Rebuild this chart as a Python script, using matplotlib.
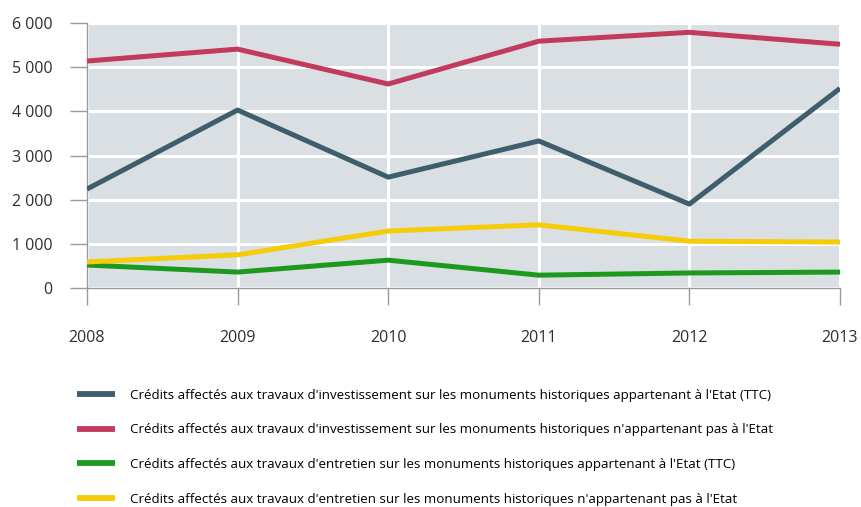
import matplotlib
matplotlib.use("Agg")
import matplotlib.pyplot as plt

plt.rcParams["font.family"] = ["Open Sans", "DejaVu Sans"]

years = [2008, 2009, 2010, 2011, 2012, 2013]
invest_etat = [2240, 4030, 2510, 3330, 1900, 4520]
invest_hors_etat = [5140, 5410, 4620, 5590, 5790, 5520]
entretien_etat = [520, 360, 630, 290, 340, 360]
entretien_hors_etat = [590, 750, 1290, 1430, 1060, 1040]
y_ticks = [0, 1000, 2000, 3000, 4000, 5000, 6000]
y_tick_labels = ["0", "1 000", "2 000", "3 000", "4 000", "5 000", "6 000"]

labels = [
    "Crédits affectés aux travaux d'investissement sur les monuments historiques appartenant à l'Etat (TTC)",
    "Crédits affectés aux travaux d'investissement sur les monuments historiques n'appartenant pas à l'Etat",
    "Crédits affectés aux travaux d'entretien sur les monuments historiques appartenant à l'Etat (TTC)",
    "Crédits affectés aux travaux d'entretien sur les monuments historiques n'appartenant pas à l'Etat",
]
series = [invest_etat, invest_hors_etat, entretien_etat, entretien_hors_etat]
colors = ["#3e5d6d", "#c23a5c", "#1d9a1d", "#f6cb08"]

fig = plt.figure(figsize=(8.61, 5.07), dpi=100)
ax = fig.add_axes([0.101, 0.432, 0.8746, 0.5225])
ax.set_facecolor("#d9dfe3")

lines = []
for vals, col, lab in zip(series, colors, labels):
    ln, = ax.plot(years, vals, color=col, lw=3.6, solid_capstyle="butt", label=lab, zorder=3)
    lines.append(ln)

ax.set_xlim(years[0], years[-1])
ax.set_ylim(0, 6000)
ax.set_xticks(years)
ax.set_xticklabels([str(y) for y in years])
ax.set_yticks(y_ticks)
ax.set_yticklabels(y_tick_labels)

ax.grid(True, color="white", lw=2.2, zorder=1)
ax.set_axisbelow(True)

for side in ["top", "right"]:
    ax.spines[side].set_visible(False)
for side in ["left", "bottom"]:
    ax.spines[side].set_color("#9a9a9a")
    ax.spines[side].set_linewidth(1.0)

ax.tick_params(axis="y", length=12, width=1.0, color="#9a9a9a", pad=13,
               labelsize=11.5, labelcolor="#2e2e2e")
ax.tick_params(axis="x", length=12.5, width=1.0, color="#9a9a9a", pad=17.5,
               labelsize=11.5, labelcolor="#2e2e2e")

leg = fig.legend(handles=lines, loc="upper left", bbox_to_anchor=(0.0894, 0.233),
                 frameon=False, fontsize=9.6, handlelength=2.85, handletextpad=1.15,
                 labelspacing=1.62, borderaxespad=0, borderpad=0)
for h in leg.legend_handles:
    h.set_linewidth(4.2)

fig.savefig("out.png", dpi=100, facecolor="white")
